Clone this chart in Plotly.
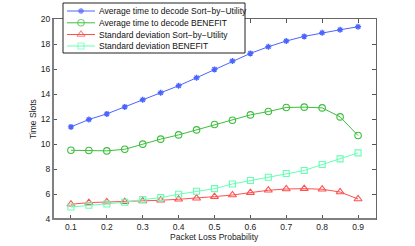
import plotly.graph_objects as go

x_vals = [0.1, 0.15, 0.2, 0.25, 0.3, 0.35, 0.4, 0.45, 0.5, 0.55, 0.6, 0.65, 0.7, 0.75, 0.8, 0.85, 0.9]
avg_sbu = [11.37, 11.96, 12.41, 12.97, 13.54, 14.10, 14.66, 15.30, 15.97, 16.64, 17.25, 17.78, 18.24, 18.61, 18.90, 19.14, 19.38]
avg_benefit = [9.50, 9.48, 9.45, 9.58, 9.99, 10.39, 10.73, 11.13, 11.56, 11.90, 12.33, 12.60, 12.92, 12.95, 12.89, 12.17, 10.68]
std_sbu = [5.18, 5.31, 5.36, 5.39, 5.44, 5.50, 5.58, 5.66, 5.79, 5.92, 6.11, 6.30, 6.40, 6.43, 6.38, 6.16, 5.60]
std_benefit = [4.96, 5.10, 5.20, 5.34, 5.55, 5.71, 5.98, 6.22, 6.43, 6.80, 7.08, 7.34, 7.64, 7.88, 8.36, 8.81, 9.29]

names = ["Average time to decode Sort\u2212by\u2212Utility",
         "Average time to decode BENEFIT",
         "Standard deviation Sort\u2212by\u2212Utility",
         "Standard deviation BENEFIT"]
colors = ["#4a64ff", "#3cbf3c", "#ff5050", "#66ffb4"]
symbols = ["asterisk-open", "circle-open", "triangle-up-open", "square-open"]
msizes = [5, 6.5, 7, 6]
series = [avg_sbu, avg_benefit, std_sbu, std_benefit]

x_ticks = [0.1, 0.2, 0.3, 0.4, 0.5, 0.6, 0.7, 0.8, 0.9]
y_ticks = [4, 6, 8, 10, 12, 14, 16, 18, 20]

W, H = 415, 246
PL, PR, PT, PB = 53, 376, 19, 219  # plot area in pixels

FONT = "Liberation Sans, Arial, sans-serif"
txt_font = dict(family=FONT, size=8.5, color="#111")
axis_font = dict(family=FONT, size=8.5, color="#222")

fig = go.Figure()
for nm, ys, c, s, ms in zip(names, series, colors, symbols, msizes):
    mk = dict(symbol=s, size=ms, color=c, line=dict(color=c, width=1.4 if s.startswith("asterisk") else 1.1))
    fig.add_trace(go.Scatter(x=x_vals, y=ys, mode="lines+markers", name=nm,
                             line=dict(color=c, width=1), marker=mk, showlegend=False))

# legend box + samples on a pixel-based overlay subplot covering the whole figure
fig.add_shape(type="rect", xref="x2", yref="y2", x0=63, x1=245, y0=3, y1=53,
              line=dict(color="#222", width=1), fillcolor="white", layer="below")
rows_y = [11, 22.8, 34.5, 46]
for nm, c, s, ms, ry in zip(names, colors, symbols, msizes, rows_y):
    fig.add_trace(go.Scatter(x=[67, 81, 95], y=[ry, ry, ry], mode="lines+markers",
                             xaxis="x2", yaxis="y2", cliponaxis=False, showlegend=False,
                             hoverinfo="skip",
                             line=dict(color=c, width=1),
                             marker=dict(symbol=s, size=[0, ms, 0], color=c,
                                         line=dict(color=c, width=1.4 if s.startswith("asterisk") else 1.1))))
    fig.add_annotation(x=97, y=ry, xref="x2", yref="y2", text=nm, showarrow=False,
                       xanchor="left", yanchor="middle", font=txt_font)

# axis titles
fig.add_annotation(x=(PL + PR) / 2, y=237, xref="x2", yref="y2", text="Packet Loss Probability",
                   showarrow=False, xanchor="center", yanchor="middle", font=axis_font)
fig.add_annotation(x=33, y=(PT + PB) / 2, xref="x2", yref="y2", text="Time Slots", textangle=-90,
                   showarrow=False, xanchor="center", yanchor="middle", font=axis_font)

# thicker grey left / bottom axis lines
fig.add_shape(type="line", xref="x2", yref="y2", x0=PL, x1=PL, y0=PT, y1=PB + 1,
              line=dict(color="#808080", width=2), layer="above")
fig.add_shape(type="line", xref="x2", yref="y2", x0=PL - 1, x1=PR, y0=PB, y1=PB,
              line=dict(color="#808080", width=2), layer="above")

fig.update_layout(
    width=W, height=H,
    margin=dict(l=0, r=0, t=0, b=0, pad=0),
    paper_bgcolor="white", plot_bgcolor="rgba(0,0,0,0)",
    xaxis=dict(domain=[PL / W, PR / W], range=[0.05, 0.95], tickvals=x_ticks,
               ticktext=[str(v) for v in x_ticks],
               ticks="inside", ticklen=4, tickcolor="#555", showline=True, mirror="ticks",
               linecolor="#666", linewidth=1, showgrid=False, zeroline=False,
               tickfont=axis_font, anchor="y", automargin=False),
    yaxis=dict(domain=[(H - PB) / H, (H - PT) / H], range=[4, 20], tickvals=y_ticks,
               ticks="inside", ticklen=4, tickcolor="#555",
               showline=True, mirror="ticks", linecolor="#666", linewidth=1,
               showgrid=False, zeroline=False, tickfont=axis_font, anchor="x", automargin=False),
    xaxis2=dict(domain=[0, 1], range=[0, W], anchor="y2", visible=False,
                showgrid=False, zeroline=False, fixedrange=True, automargin=False),
    yaxis2=dict(domain=[0, 1], range=[H, 0], anchor="x2", visible=False,
                showgrid=False, zeroline=False, fixedrange=True, automargin=False),
    showlegend=False,
)

fig.write_html("out.html", config={"displayModeBar": False},
               post_script="document.body.style.margin='0';document.body.style.overflow='hidden';")
